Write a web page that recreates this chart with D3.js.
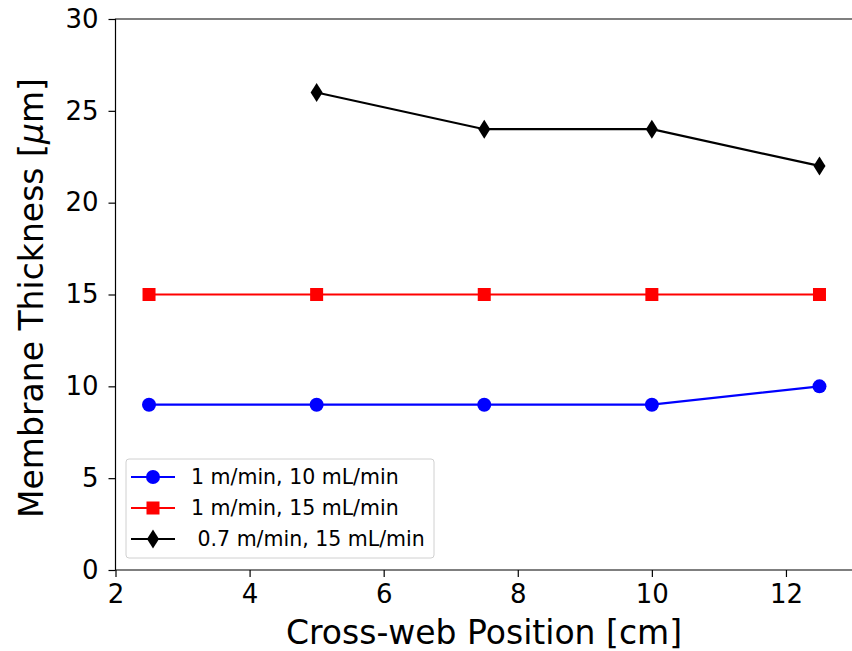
<!DOCTYPE html>
<html>
<head>
<meta charset="utf-8">
<script src="https://cdn.jsdelivr.net/npm/d3@7"></script>
<style>
  html, body { margin: 0; padding: 0; background: #fff; }
  svg { display: block; font-family: "DejaVu Sans", sans-serif; }
</style>
</head>
<body>
<svg id="chart" width="852" height="651"></svg>
<script>
// Cross-web membrane thickness measurements
const positions = [2.5, 5, 7.5, 10, 12.5];
const series1 = [9, 9, 9, 9, 10];          // 1 m/min, 10 mL/min
const series2 = [15, 15, 15, 15, 15];      // 1 m/min, 15 mL/min
const series3 = [null, 26, 24, 24, 22];    // 0.7 m/min, 15 mL/min
const seriesNames = ["1 m/min, 10 mL/min", "1 m/min, 15 mL/min", " 0.7 m/min, 15 mL/min"];
const seriesColors = ["#0000ff", "#ff0000", "#000000"];
const seriesMarkers = ["circle", "square", "diamond"];
const xTicks = [2, 4, 6, 8, 10, 12];
const yTicks = [0, 5, 10, 15, 20, 25, 30];

const svg = d3.select("#chart");
const plot = { left: 115.5, right: 853, top: 19, bottom: 570 };

const x = d3.scaleLinear().domain([2, 13]).range([plot.left, plot.right]);
const y = d3.scaleLinear().domain([0, 30]).range([plot.bottom, plot.top]);

// axes
const xAxis = svg.append("g")
  .attr("transform", `translate(0,${plot.bottom})`)
  .call(d3.axisBottom(x).tickValues(xTicks).tickSize(7).tickPadding(8).tickFormat(d3.format("d")));
const yAxis = svg.append("g")
  .attr("transform", `translate(${plot.left},0)`)
  .call(d3.axisLeft(y).tickValues(yTicks).tickSize(7).tickPadding(10).tickFormat(d3.format("d")));
[xAxis, yAxis].forEach(g => {
  g.select(".domain").remove();
  g.selectAll("line").attr("stroke", "#000").attr("stroke-width", 1.2);
  g.selectAll("text").attr("fill", "#000").style("font-size", "26px")
    .style("font-family", "DejaVu Sans, sans-serif");
});

// frame (top, left, bottom spines)
svg.append("path")
  .attr("d", `M${plot.right},${plot.top}H${plot.left}V${plot.bottom}H${plot.right}`)
  .attr("fill", "none").attr("stroke", "#000").attr("stroke-width", 1.2);

// axis titles
svg.append("text")
  .attr("x", 484).attr("y", 644)
  .attr("text-anchor", "middle").style("font-size", "33px").attr("fill", "#000")
  .text("Cross-web Position [cm]");
const yTitle = svg.append("text")
  .attr("transform", `translate(43,298) rotate(-90)`)
  .attr("text-anchor", "middle").style("font-size", "33px").attr("fill", "#000");
yTitle.append("tspan").text("Membrane Thickness [");
yTitle.append("tspan").style("font-style", "italic").text("μ");
yTitle.append("tspan").text("m]");

function drawMarker(g, type, color) {
  if (type === "circle") {
    g.append("circle").attr("r", 7).attr("fill", color);
  } else if (type === "square") {
    g.append("rect").attr("x", -6.5).attr("y", -6.5).attr("width", 13).attr("height", 13).attr("fill", color);
  } else {
    g.append("path").attr("d", "M0,-9.5L6,0L0,9.5L-6,0Z").attr("fill", color);
  }
}

const allSeries = [series1, series2, series3];
allSeries.forEach((vals, i) => {
  const pts = positions.map((p, j) => ({ x: p, y: vals[j] })).filter(d => d.y !== null);
  const line = d3.line().x(d => x(d.x)).y(d => y(d.y));
  svg.append("path").datum(pts).attr("d", line)
    .attr("fill", "none").attr("stroke", seriesColors[i]).attr("stroke-width", 2.2);
  pts.forEach(d => {
    const g = svg.append("g").attr("transform", `translate(${x(d.x)},${y(d.y)})`);
    drawMarker(g, seriesMarkers[i], seriesColors[i]);
  });
});

// legend
const legend = svg.append("g").attr("transform", "translate(126,459)");
legend.append("rect").attr("x", 0).attr("y", 0).attr("width", 308).attr("height", 99)
  .attr("rx", 3).attr("fill", "#fff").attr("fill-opacity", 0.8)
  .attr("stroke", "#d0d0d0").attr("stroke-width", 1);
seriesNames.forEach((name, i) => {
  const ry = 18 + i * 31;
  legend.append("line").attr("x1", 5).attr("x2", 49).attr("y1", ry).attr("y2", ry)
    .attr("stroke", seriesColors[i]).attr("stroke-width", 2.2);
  const g = legend.append("g").attr("transform", `translate(27,${ry})`);
  drawMarker(g, seriesMarkers[i], seriesColors[i]);
  legend.append("text").attr("x", 65).attr("y", ry).attr("dy", "0.35em")
    .style("font-size", "20.5px").attr("fill", "#000").style("white-space", "pre")
    .attr("xml:space", "preserve").text(name);
});
</script>
</body>
</html>
